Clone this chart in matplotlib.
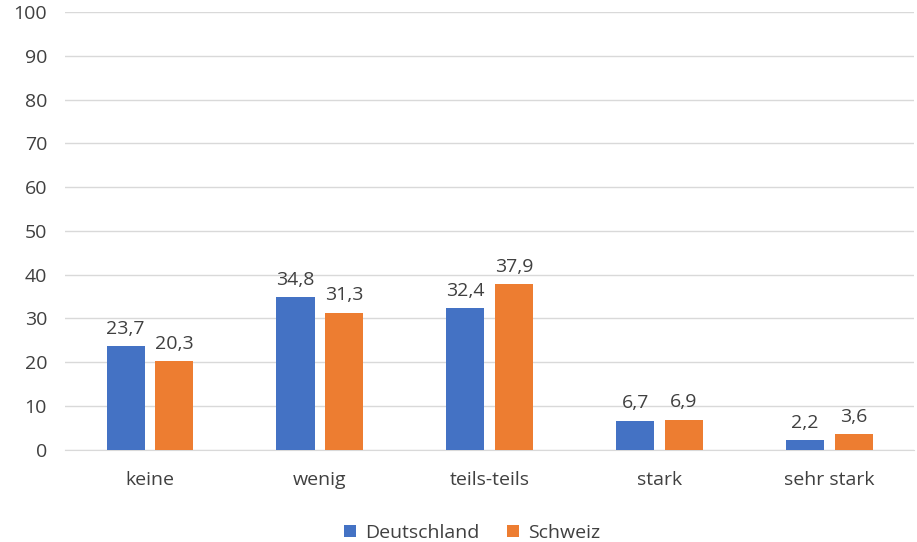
import matplotlib
matplotlib.use("Agg")
import matplotlib.pyplot as plt
import numpy as np

categories = ["keine", "wenig", "teils-teils", "stark", "sehr stark"]
deutschland = [23.7, 34.8, 32.4, 6.7, 2.2]
schweiz = [20.3, 31.3, 37.9, 6.9, 3.6]
series_names = ["Deutschland", "Schweiz"]
yticks = [0, 10, 20, 30, 40, 50, 60, 70, 80, 90, 100]

plt.rcParams['font.family'] = ['Open Sans', 'DejaVu Sans']
txt = '#404040'
fs = 14

fig = plt.figure(figsize=(9.17, 5.42), dpi=100)
ax = fig.add_axes([0.071, 0.170, 0.926, 0.808])

x = np.arange(len(categories))
w = 0.225
off = 0.143
b1 = ax.bar(x - off, deutschland, w, color='#4472C4', label=series_names[0], zorder=3)
b2 = ax.bar(x + off, schweiz, w, color='#ED7D31', label=series_names[1], zorder=3)

for bars, vals in ((b1, deutschland), (b2, schweiz)):
    for b, v in zip(bars, vals):
        ax.annotate(f"{v:.1f}".replace('.', ','), (b.get_x() + b.get_width()/2, v),
                    xytext=(0, 6), textcoords='offset points', ha='center', va='bottom',
                    fontsize=fs, color=txt)

ax.set_xlim(-0.5, 4.5)
ax.set_ylim(0, 100)
ax.set_yticks(yticks)
ax.set_yticklabels([str(t) for t in yticks], fontsize=fs, color=txt)
ax.set_xticks(x)
ax.set_xticklabels(categories, fontsize=fs, color=txt)
ax.tick_params(axis='both', length=0)
ax.tick_params(axis='y', pad=13)
ax.tick_params(axis='x', pad=15)
ax.yaxis.grid(True, color='#D9D9D9', linewidth=1, zorder=0)
for s in ['top', 'right', 'left']:
    ax.spines[s].set_visible(False)
ax.spines['bottom'].set_color('#D9D9D9')

leg = fig.legend(handles=[b1, b2], loc='center', bbox_to_anchor=(0.515, 0.017),
                 ncol=2, frameon=False, fontsize=fs, handlelength=0.6, handleheight=0.6,
                 handletextpad=0.5, columnspacing=1.4)
for t in leg.get_texts():
    t.set_color(txt)

fig.savefig("out.png", dpi=100)
